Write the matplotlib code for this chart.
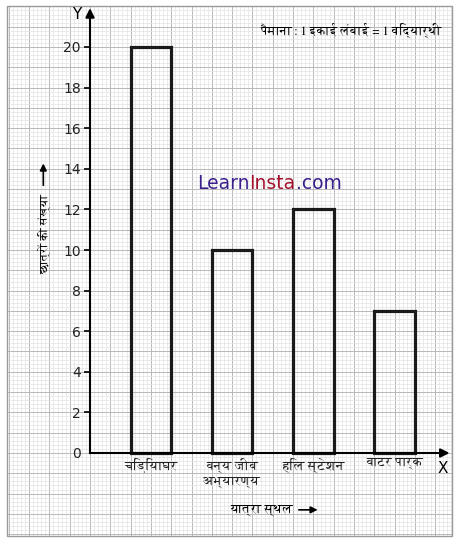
import numpy as np
import matplotlib
matplotlib.use("Agg")
import matplotlib.pyplot as plt
from matplotlib import font_manager
from matplotlib.ft2font import FT2Font
from matplotlib.patches import Rectangle

# data
places = ["चिड़ियाघर", "वन्य जीव\nअभ्यारण्य", "हिल स्टेशन", "वाटर पार्क"]
students = [20, 10, 12, 7]
bar_pos = [3, 7, 11, 15]
y_ticks = list(range(0, 21, 2))


def devanagari_font(serif=False):
    # look for an installed font that has Devanagari glyphs
    found = []
    for f in font_manager.fontManager.ttflist:
        try:
            cmap = FT2Font(f.fname).get_charmap()
        except Exception:
            continue
        if 0x0915 in cmap and 0x093F in cmap:
            found.append(f.name)
    if not found:
        return ["DejaVu Sans"]
    if serif:
        s = [n for n in found if "Serif" in n]
        if s:
            return [s[0], "DejaVu Serif"]
    s = [n for n in found if "Serif" not in n]
    return [(s or found)[0], "DejaVu Sans"]


hindi = devanagari_font(serif=True)

fig = plt.figure(figsize=(4.59, 5.44), dpi=100)
ax = fig.add_axes([0, 0, 1, 1])
ax.set_xlim(-90 / 20.3, 369 / 20.3)
ax.set_ylim(-91 / 20.3, 453 / 20.3)

# graph paper
x0, x1, y0, y1 = -4.1, 17.85, -4.1, 22.0
for v in np.arange(-4.0, 17.85, 0.2):
    major = abs(v - round(v)) < 1e-6
    ax.vlines(v, y0, y1, color="#b8b8b8" if major else "#e0e0e0",
              lw=0.7 if major else 0.45, zorder=0)
for v in np.arange(-4.0, 22.0, 0.2):
    major = abs(v - round(v)) < 1e-6
    ax.hlines(v, x0, x1, color="#b8b8b8" if major else "#e0e0e0",
              lw=0.7 if major else 0.45, zorder=0)
ax.add_patch(Rectangle((x0, y0), x1 - x0, y1 - y0, fill=False,
                       ec="#9a9a9a", lw=1.0, zorder=1))

ax.bar(bar_pos, students, width=2, fill=False, edgecolor="#1a1a1a",
       linewidth=2.3, zorder=3)

# axes through origin
for s in ["top", "right"]:
    ax.spines[s].set_visible(False)
ax.spines["left"].set_position(("data", 0))
ax.spines["bottom"].set_position(("data", 0))
ax.spines["left"].set_bounds(0, 21.6)
ax.spines["bottom"].set_bounds(0, 17.4)
ax.spines["left"].set_linewidth(1.5)
ax.spines["bottom"].set_linewidth(1.5)
ax.spines["left"].set_zorder(4)
ax.spines["bottom"].set_zorder(4)

ax.annotate("", xy=(0, 22.05), xytext=(0, 21.3),
            arrowprops=dict(arrowstyle="-|>", color="k", lw=1.5, mutation_scale=13))
ax.annotate("", xy=(17.85, 0), xytext=(17.1, 0),
            arrowprops=dict(arrowstyle="-|>", color="k", lw=1.5, mutation_scale=13))

ax.set_yticks(y_ticks)
ax.set_yticklabels([str(t) for t in y_ticks], fontsize=10, color="#222222")
ax.tick_params(axis="y", direction="out", length=4.5, width=1.2, pad=2)
ax.yaxis.get_major_ticks()[0].tick1line.set_visible(False)

ax.set_xticks(bar_pos)
ax.set_xticklabels(places, family=hindi, fontsize=9.5, color="#222222",
                   linespacing=1.35)
ax.tick_params(axis="x", length=0, pad=3)

ax.text(-0.65, 21.6, "Y", fontsize=11, ha="center", va="center")
ax.text(17.4, -0.75, "X", fontsize=11, ha="center", va="center")

# y label with arrow
ax.text(-2.2, 10.8, "छात्रों की संख्या", family=hindi, fontsize=8.6,
        rotation=90, ha="center", va="center")
ax.annotate("", xy=(-2.3, 14.4), xytext=(-2.3, 13.05),
            arrowprops=dict(arrowstyle="-|>", color="k", lw=1.2, mutation_scale=10))

# x label with arrow
ax.text(8.45, -2.8, "यात्रा स्थल", family=hindi, fontsize=9.2,
        ha="center", va="center")
ax.annotate("", xy=(11.35, -2.8), xytext=(10.15, -2.8),
            arrowprops=dict(arrowstyle="-|>", color="k", lw=1.2, mutation_scale=10))

# scale note
ax.text(12.86, 20.84, "पैमाना: 1 इकाई लंबाई = 1 विद्यार्थी", family=hindi,
        fontsize=9.0, ha="center", va="center")

# watermark
t1 = ax.text(5.27, 13.3, "Learn", fontsize=13.5, color="#3b1f8c",
             ha="left", va="center", zorder=5)
t2 = ax.annotate("Insta", xy=(1, 0), xycoords=t1, va="bottom", ha="left",
                 fontsize=13.5, color="#a3122e", zorder=5)
ax.annotate(".com", xy=(1, 0), xycoords=t2, va="bottom", ha="left",
            fontsize=13.5, color="#3b1f8c", zorder=5)

fig.savefig("out.png", dpi=100)
